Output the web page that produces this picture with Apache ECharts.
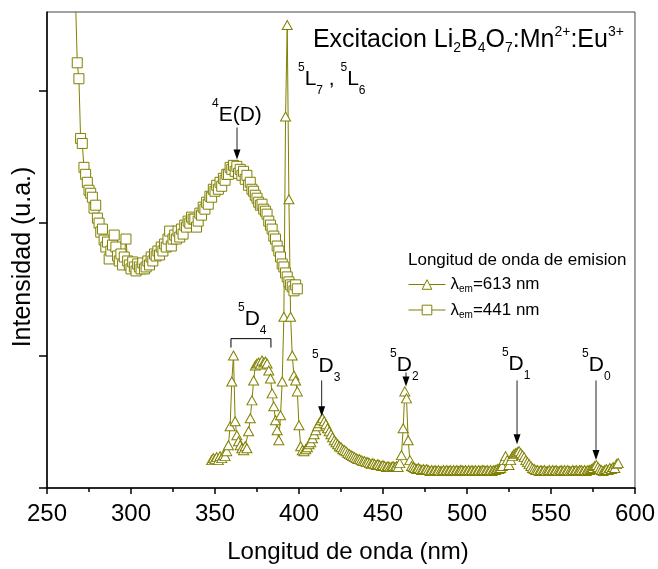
<!DOCTYPE html>
<html>
<head>
<meta charset="utf-8">
<script src="https://cdn.jsdelivr.net/npm/echarts@6/dist/echarts.min.js"></script>
<style>
  html, body { margin: 0; padding: 0; background: #fff; }
  #chart { width: 658px; height: 569px; }
</style>
</head>
<body>
<div id="chart"></div>
<script>
// Excitation spectrum, emission monitored at 613 nm (Eu3+)
const wl613 = [
  348,349,350,351,352,353,354,355,356,357,
  358,359,360,361,362,363,364,365,366,367,
  368,369,370,371,372,373,374,375,376,377,
  378,379,380,381,382,383,384,385,386,387,
  388,389,390,391,392,393,394,395,396,397,
  398,399,400,401,402,403,404,405,406,407,
  408,409,410,411,412,413,414,415,416,417,
  418,419,420,421,422,423,424,425,426,427,
  428,429,430,431,432,433,434,435,436,437,
  438,439,440,441,442,443,444,445,446,447,
  448,449,450,451,452,453,454,455,456,457,
  458,459,460,461,462,463,464,465,466,467,
  468,469,470,471,472,473,474,475,476,477,
  478,479,480,481,482,483,484,485,486,487,
  488,489,490,491,492,493,494,495,496,497,
  498,499,500,501,502,503,504,505,506,507,
  508,509,510,511,512,513,514,515,516,517,
  518,519,520,521,522,523,524,525,526,527,
  528,529,530,531,532,533,534,535,536,537,
  538,539,540,541,542,543,544,545,546,547,
  548,549,550,551,552,553,554,555,556,557,
  558,559,560,561,562,563,564,565,566,567,
  568,569,570,571,572,573,574,575,576,577,
  578,579,580,581,582,583,584,585,586,587,
  588,589,590
];
const int613 = [
  28,30,29,31,28,32,30,33,32,37,
  43,62,107,133,67,53,47,43,40,38,
  42,40,57,70,88,108,123,125,126,124,
  128,126,127,125,118,110,95,82,68,58,
  48,73,107,172,373,465,290,172,133,113,
  108,97,63,42,38,37,39,41,44,46,
  50,54,58,62,65,68,70,67,64,60,
  57,54,51,48,46,44,42,41,39,38,
  37,35,34,33,32,31,30,29,29,28,
  27,27,26,26,25,24,25,24,23,24,
  23,22,23,22,21,22,21,21,22,21,
  22,21,25,33,60,97,90,48,28,22,
  21,20,19,20,19,18,19,18,19,18,
  17,18,17,18,17,18,17,17,18,17,
  18,17,18,17,18,17,18,17,18,18,
  17,18,17,18,17,18,17,18,17,18,
  17,18,18,17,18,17,18,17,18,18,
  19,19,20,22,28,32,28,23,28,32,
  34,35,36,37,35,33,31,28,26,24,
  22,20,19,18,18,17,18,17,18,17,
  17,18,17,18,17,18,17,17,18,17,
  18,17,18,17,17,18,17,18,17,18,
  18,17,18,17,18,18,19,20,22,23,
  21,19,18,17,18,19,18,20,19,21,
  20,24,25
];

// Excitation spectrum, emission monitored at 441 nm (Mn2+)
const wl441 = [
  267,268,269,270,271,272,273,274,275,276,277,
  278,279,280,281,282,283,284,285,286,287,
  288,289,290,291,292,293,294,295,296,297,
  298,299,300,301,302,303,304,305,306,307,
  308,309,310,311,312,313,314,315,316,317,
  318,319,320,321,322,323,324,325,326,327,
  328,329,330,331,332,333,334,335,336,337,
  338,339,340,341,342,343,344,345,346,347,
  348,349,350,351,352,353,354,355,356,357,
  358,359,360,361,362,363,364,365,366,367,
  368,369,370,371,372,373,374,375,376,377,
  378,379,380,381,382,383,384,385,386,387,
  388,389,390,391,392,393,394,395,396,397,
  398,399
];
const int441 = [
  490,427,411,351,346,322,315,307,299,296,292,
  281,284,271,266,257,260,249,242,247,230,
  238,244,254,242,233,228,235,224,232,250,
  228,224,220,227,222,218,225,222,220,226,
  220,222,228,224,232,228,235,233,238,234,
  242,238,245,242,250,258,243,250,254,250,
  258,252,260,255,264,262,268,266,272,270,
  270,262,268,276,274,282,280,287,285,293,
  292,300,298,304,300,307,303,311,309,315,
  315,322,320,324,318,323,316,320,314,318,
  310,314,304,307,300,298,294,291,287,284,
  285,280,278,275,268,264,260,253,250,243,
  238,232,225,222,216,212,207,204,202,198,
  204,200
];

const xTicks = [250, 300, 350, 400, 450, 500, 550, 600];
const yTicks = [0, 133, 266, 399];
const seriesNames = ['λem=613 nm', 'λem=441 nm'];

const FONT = "'Liberation Sans', Arial, Helvetica, sans-serif";
const OLIVE = '#808000';
const INK = '#000';

const pairs = (xs, ys) => xs.map((x, i) => [x, ys[i]]);

const chart = echarts.init(document.getElementById('chart'), null, { renderer: 'canvas' });

chart.setOption({
  animation: false,
  backgroundColor: '#fff',
  textStyle: { fontFamily: FONT },
  grid: {
    left: 47, right: 23, top: 12, bottom: 79,
    show: true, borderColor: '#444', borderWidth: 1, backgroundColor: 'transparent'
  },
  legend: {
    orient: 'vertical',
    left: 408, top: 276, padding: 0,
    itemWidth: 37, itemHeight: 12, itemGap: 7,
    data: seriesNames,
    itemStyle: { borderWidth: 1 },
    lineStyle: { width: 1 },
    formatter: (name) => {
      const m = name.match(/^λem(.*)$/);
      return '{m|λ}{s|em}{m|' + m[1] + '}';
    },
    textStyle: {
      color: INK, fontFamily: FONT,
      rich: {
        m: { fontSize: 17, lineHeight: 20, fontFamily: FONT, color: INK },
        s: { fontSize: 10, lineHeight: 5, verticalAlign: 'bottom', fontFamily: FONT, color: INK }
      }
    }
  },
  xAxis: {
    type: 'value', min: 250, max: 600, interval: 50,
    axisLine: { onZero: false, lineStyle: { color: INK, width: 1.5 } },
    axisTick: { length: 6, lineStyle: { color: INK, width: 1.5 } },
    minorTick: { show: true, splitNumber: 2, length: 4, lineStyle: { color: INK, width: 1.5 } },
    splitLine: { show: false },
    axisLabel: { customValues: xTicks, fontSize: 24, color: INK, margin: 14, fontFamily: FONT },
    name: 'Longitud de onda (nm)', nameLocation: 'middle', nameGap: 52,
    nameTextStyle: { fontSize: 24, color: INK, fontFamily: FONT, padding: [0, 0, 0, 14] }
  },
  yAxis: {
    type: 'value', min: 0, max: 478, interval: 133,
    axisLine: { onZero: false, lineStyle: { color: INK, width: 1.5 } },
    axisTick: { customValues: yTicks, length: 8, lineStyle: { color: INK, width: 1.5 } },
    axisLabel: { show: false },
    splitLine: { show: false },
    name: 'Intensidad (u.a.)', nameLocation: 'middle', nameGap: 11, nameRotate: 90,
    nameTextStyle: { fontSize: 25, color: INK, fontFamily: FONT, padding: [0, 14, 0, 0] }
  },
  series: [
    {
      name: seriesNames[0], type: 'line', data: pairs(wl613, int613),
      symbol: 'triangle', symbolSize: [10, 9],
      itemStyle: { color: '#fff', borderColor: OLIVE, borderWidth: 1 },
      lineStyle: { color: OLIVE, width: 1 },
      emphasis: { disabled: true }, clip: true
    },
    {
      name: seriesNames[1], type: 'line', data: pairs(wl441, int441),
      symbol: 'rect', symbolSize: 10,
      itemStyle: { color: '#fff', borderColor: OLIVE, borderWidth: 1 },
      lineStyle: { color: OLIVE, width: 1 },
      emphasis: { disabled: true }, clip: true
    }
  ]
});

// ---- annotations (anchored in data coordinates: [wavelength, intensity]) ----
const RICH_LABEL = {
  m:   { fontSize: 21, lineHeight: 35, fontFamily: FONT, color: INK },
  sup: { fontSize: 12, lineHeight: 12, verticalAlign: 'top', fontFamily: FONT, color: INK },
  sub: { fontSize: 12, lineHeight: 18, verticalAlign: 'bottom', fontFamily: FONT, color: INK }
};
const RICH_TITLE = {
  m:   { fontSize: 25, lineHeight: 30, fontFamily: FONT, color: INK },
  sup: { fontSize: 14, lineHeight: 14, verticalAlign: 'top', fontFamily: FONT, color: INK },
  sub: { fontSize: 14, lineHeight: 8, verticalAlign: 'bottom', fontFamily: FONT, color: INK }
};

const labelSpecs = [
  { text: '{m|Excitacion Li}{sub|2}{m|B}{sub|4}{m|O}{sub|7}{m|:Mn}{sup|2+}{m|:Eu}{sup|3+}', at: [408.3, 450], rich: RICH_TITLE },
  { text: '{sup|5}{m|L}{sub|7}{m| , }{sup|5}{m|L}{sub|6}', at: [399.4, 410.5], rich: RICH_LABEL },
  { text: '{sup|4}{m|E(D)}', at: [348.2, 374], rich: RICH_LABEL },
  { text: '{sup|5}{m|D}{sub|4}', at: [363.7, 170], rich: RICH_LABEL },
  { text: '{sup|5}{m|D}{sub|3}', at: [407.7, 122.5], rich: RICH_LABEL },
  { text: '{sup|5}{m|D}{sub|2}', at: [454.2, 123.5], rich: RICH_LABEL },
  { text: '{sup|5}{m|D}{sub|1}', at: [520.8, 124.5], rich: RICH_LABEL },
  { text: '{sup|5}{m|D}{sub|0}', at: [568.5, 123.5], rich: RICH_LABEL }
];
const arrowSpecs = [
  { x: 363.1, from: 362, to: 330 },
  { x: 413.5, from: 108, to: 72 },
  { x: 463.7, from: 116, to: 102 },
  { x: 529.8, from: 108, to: 44 },
  { x: 576.8, from: 108, to: 28 }
];
const bracketSpec = { x0: 359.5, x1: 383.3, y: 150, yEnd: 141 };

function buildGraphics() {
  const toPx = (x, y) => chart.convertToPixel({ gridIndex: 0 }, [x, y]);
  const els = [];

  labelSpecs.forEach((s) => {
    const p = toPx(s.at[0], s.at[1]);
    els.push({
      type: 'text', x: p[0], y: p[1], silent: true, z: 10,
      style: { text: s.text, rich: s.rich, align: 'left', verticalAlign: 'middle', fill: INK, fontFamily: FONT }
    });
  });

  arrowSpecs.forEach((a) => {
    const p0 = toPx(a.x, a.from);
    const p1 = toPx(a.x, a.to);
    const head = 10, half = 3.5;
    els.push({
      type: 'line', silent: true, z: 10,
      shape: { x1: p0[0], y1: p0[1], x2: p1[0], y2: p1[1] - head + 1 },
      style: { stroke: '#222', lineWidth: 1 }
    });
    els.push({
      type: 'polygon', silent: true, z: 10,
      shape: { points: [[p1[0] - half, p1[1] - head], [p1[0] + half, p1[1] - head], [p1[0], p1[1]]] },
      style: { fill: '#000' }
    });
  });

  const b0 = toPx(bracketSpec.x0, bracketSpec.yEnd);
  const b1 = toPx(bracketSpec.x0, bracketSpec.y);
  const b2 = toPx(bracketSpec.x1, bracketSpec.y);
  const b3 = toPx(bracketSpec.x1, bracketSpec.yEnd);
  els.push({
    type: 'polyline', silent: true, z: 10,
    shape: { points: [b0, b1, b2, b3] },
    style: { stroke: '#000', lineWidth: 1, fill: null }
  });

  // heading above the legend entries
  els.push({
    type: 'text', left: 408, top: 252, silent: true, z: 10,
    style: { text: 'Longitud de onda de emision', fontSize: 17, fontFamily: FONT, fill: INK }
  });

  return els;
}

chart.setOption({ graphic: buildGraphics() });
</script>
</body>
</html>
